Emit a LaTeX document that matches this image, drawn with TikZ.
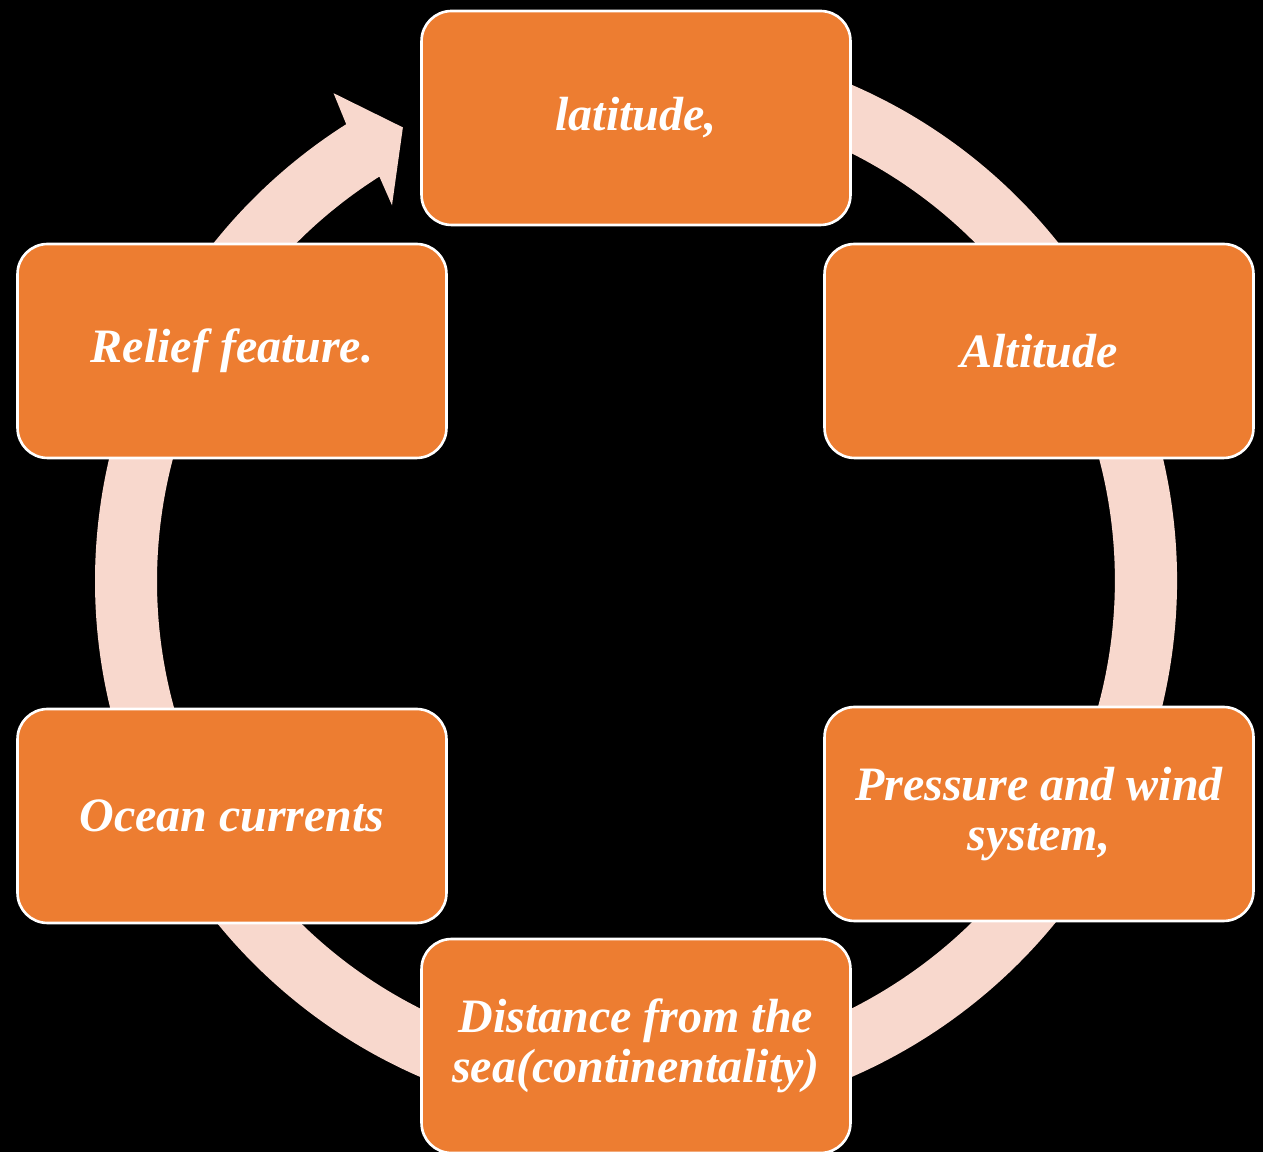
\documentclass[tikz,border=0pt]{standalone}
\usepackage{fontspec}
\setmainfont{Liberation Serif}
\definecolor{boxorange}{HTML}{ED7D31}
\definecolor{ringpink}{HTML}{F8D8CD}
\tikzset{
  stepbox/.style={draw=white, line width=1.5pt, fill=boxorange, rounded corners=0.6cm,
    minimum width=8.58cm, minimum height=4.28cm, align=center, text=white,
    font=\bfseries\itshape\fontsize{27.3}{28.2}\selectfont, inner sep=2pt},
  ringshape/.style={fill=ringpink, draw=none}
}
\begin{document}
\begin{tikzpicture}[x=0.02cm,y=0.02cm]
\fill[black] (0,0) rectangle (1263,1152);
\useasboundingbox (0,0) rectangle (1263,1152);
\coordinate (C) at (636,571);
% ring with arrowhead, one filled shape
\fill[ringshape] ([shift={(75:541)}]C) arc[start angle=75, end angle=-237.6, radius=10.82cm]
  -- ([shift={(121.8:574)}]C) -- ([shift={(117.2:510)}]C) -- ([shift={(123:448)}]C)
  -- ([shift={(122.4:479)}]C) arc[start angle=-237.6, end angle=75, radius=9.58cm] -- cycle;
% boxes
\node[stepbox] (lat) at (636,1034) {latitude,};
\node[stepbox] (alt) at (1039,801) {Altitude};
\node[stepbox] (pres) at (1039,338) {Pressure and wind\\system,};
\node[stepbox] (dist) at (636,106) {Distance from the\\sea(continentality)};
\node[stepbox] (ocean) at (232,336) {Ocean currents};
\node[stepbox] (relief) at (232,801) {Relief feature.};
\end{tikzpicture}
\end{document}
